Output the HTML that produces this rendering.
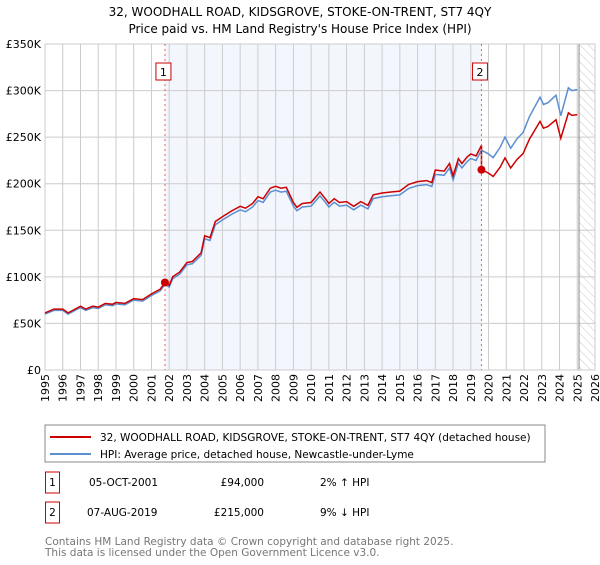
<!DOCTYPE html>
<html><head><meta charset="utf-8"><style>
body{margin:0;background:#fff;font-family:"Liberation Sans","DejaVu Sans",sans-serif;}
svg text{font-family:"DejaVu Sans","Liberation Sans",sans-serif;}
</style></head><body>
<svg id="c" width="600" height="560" xmlns="http://www.w3.org/2000/svg">
<defs><pattern id="hatch" width="6" height="6" patternUnits="userSpaceOnUse" patternTransform="rotate(-45)"><line x1="0" y1="0" x2="0" y2="6" stroke="#bbb" stroke-width="0.8"/></pattern></defs>
<text x="300" y="16" text-anchor="middle" font-size="12">32, WOODHALL ROAD, KIDSGROVE, STOKE-ON-TRENT, ST7 4QY</text>
<text x="300" y="33" text-anchor="middle" font-size="12">Price paid vs. HM Land Registry's House Price Index (HPI)</text>
<g id="plot"></g>
<rect x="45" y="425" width="500" height="37" fill="#fff" stroke="#888"/>
<line x1="50" y1="437" x2="91" y2="437" stroke="#cc0000" stroke-width="2"/>
<text x="100" y="441" font-size="10.5">32, WOODHALL ROAD, KIDSGROVE, STOKE-ON-TRENT, ST7 4QY (detached house)</text>
<line x1="50" y1="454" x2="91" y2="454" stroke="#5b8fd0" stroke-width="2"/>
<text x="100" y="458" font-size="10.5">HPI: Average price, detached house, Newcastle-under-Lyme</text>
<rect x="45.5" y="472" width="14" height="21" fill="#fff" stroke="#cc0000"/>
<text x="52.5" y="486" text-anchor="middle" font-size="10.5">1</text>
<text x="89" y="486" font-size="10.5">05-OCT-2001</text>
<text x="264" y="486" text-anchor="end" font-size="10.5">£94,000</text>
<text x="320" y="486" font-size="10.5">2% ↑ HPI</text>
<rect x="45.5" y="502" width="14" height="21" fill="#fff" stroke="#cc0000"/>
<text x="52.5" y="516" text-anchor="middle" font-size="10.5">2</text>
<text x="87" y="516" font-size="10.5">07-AUG-2019</text>
<text x="264" y="516" text-anchor="end" font-size="10.5">£215,000</text>
<text x="320" y="516" font-size="10.5">9% ↓ HPI</text>
<text x="45" y="545" font-size="10.5" fill="#777">Contains HM Land Registry data © Crown copyright and database right 2025.</text>
<text x="45" y="556" font-size="10.5" fill="#777">This data is licensed under the Open Government Licence v3.0.</text>
</svg>
<script>
const hpiYears=[1995.0,1995.5,1996.0,1996.3,1996.8,1997.0,1997.3,1997.7,1998.0,1998.4,1998.8,1999.0,1999.5,2000.0,2000.5,2001.0,2001.5,2001.76,2002.0,2002.2,2002.6,2003.0,2003.3,2003.8,2004.0,2004.3,2004.6,2005.0,2005.5,2006.0,2006.3,2006.7,2007.0,2007.3,2007.7,2008.0,2008.3,2008.6,2009.0,2009.2,2009.5,2010.0,2010.5,2010.8,2011.0,2011.3,2011.6,2012.0,2012.4,2012.8,2013.2,2013.5,2014.0,2014.5,2015.0,2015.5,2016.0,2016.5,2016.8,2017.0,2017.5,2017.8,2018.0,2018.3,2018.5,2018.8,2019.0,2019.3,2019.6,2020.0,2020.26,2020.65,2020.93,2021.25,2021.6,2021.95,2022.3,2022.9,2023.1,2023.35,2023.8,2024.07,2024.5,2024.7,2025.0];
const hpiValues=[60,64,64,60,65,67,64,67,66,70,69,71,70,75,74,80,85,92,89,98,103,113,114,123,141,139,156,161,167,172,170,175,182,180,191,193,191,192,176,171,175,176,187,180,175,180,176,177,172,177,173,184,186,187,188,195,198,199,197,210,209,217,204,222,217,224,227,225,236,232,228,239,250,238,248,255,272,293,285,287,295,273,303,300,301];
const saleYears=[2001.76,2019.6];
const salePrices=[94,215];
const yTicks=[0,50,100,150,200,250,300,350];
const yTickLabels=["£0","£50K","£100K","£150K","£200K","£250K","£300K","£350K"];
const xTicks=[1995,1996,1997,1998,1999,2000,2001,2002,2003,2004,2005,2006,2007,2008,2009,2010,2011,2012,2013,2014,2015,2016,2017,2018,2019,2020,2021,2022,2023,2024,2025,2026];
const NS="http://www.w3.org/2000/svg";
const L=45,R=595,T=44,B=370,x0=1995,x1=2026,ymax=350,dataEnd=2025.1;
const X=v=>L+(v-x0)/(x1-x0)*(R-L);
const Y=v=>B-v/ymax*(B-T);
const g=document.getElementById('plot');
function mk(t,a){const e=document.createElementNS(NS,t);for(const k in a)e.setAttribute(k,a[k]);g.appendChild(e);return e;}
let e;
e=mk('rect',{x:X(saleYears[0]),y:T,width:X(saleYears[1])-X(saleYears[0]),height:B-T,fill:'#f3f6fd'});


e=mk('rect',{x:X(dataEnd),y:T,width:R-X(dataEnd),height:B-T,fill:'url(#hatch)'});


yTicks.forEach((v,i)=>{
 e=mk('line',{x1:L,x2:R,y1:Y(v),y2:Y(v),stroke:'#ccc','stroke-width':1});
 
 
 e=mk('text',{x:L-4,y:Y(v)+4,'text-anchor':'end','font-size':11});
 e.textContent=yTickLabels[i];
 
 
});
xTicks.forEach(v=>{
 e=mk('line',{x1:X(v),x2:X(v),y1:T,y2:B,stroke:'#ccc','stroke-width':1});
 
 
 e=mk('text',{x:0,y:0,'text-anchor':'end','font-size':11,transform:`translate(${X(v)+4},374) rotate(-90)`});
 e.textContent=v;
 
 
});
e=mk('line',{x1:X(dataEnd),x2:X(dataEnd),y1:T,y2:B,stroke:'#888','stroke-width':1});


e=mk('rect',{x:L,y:T,width:R-L,height:B-T,fill:'none',stroke:'#ccc'});


function hpiAt(t){for(let i=1;i<hpiYears.length;i++){if(t<=hpiYears[i]){const f=(t-hpiYears[i-1])/(hpiYears[i]-hpiYears[i-1]);return hpiValues[i-1]+f*(hpiValues[i]-hpiValues[i-1]);}}return hpiValues[hpiValues.length-1];}
const hp=hpiYears.map((t,i)=>X(t).toFixed(1)+','+Y(hpiValues[i]).toFixed(1)).join(' ');
e=mk('polyline',{points:hp,fill:'none',stroke:'#5b8fd0','stroke-width':1.5});


const f1=salePrices[0]/hpiAt(saleYears[0]),f2=salePrices[1]/hpiAt(saleYears[1]);
const rp=[];
hpiYears.forEach((t,i)=>{if(t<saleYears[1])rp.push([t,hpiValues[i]*f1]);});
rp.push([saleYears[1],hpiAt(saleYears[1])*f1]);
rp.push([saleYears[1],salePrices[1]]);
hpiYears.forEach((t,i)=>{if(t>saleYears[1])rp.push([t,hpiValues[i]*f2]);});
e=mk('polyline',{points:rp.map(p=>X(p[0]).toFixed(1)+','+Y(p[1]).toFixed(1)).join(' '),fill:'none',stroke:'#cc0000','stroke-width':1.5});


saleYears.forEach((t,i)=>{
 e=mk('line',{x1:X(t),x2:X(t),y1:T,y2:B,stroke:'#e06666','stroke-width':1,'stroke-dasharray':'2,3'});
 
 
 e=mk('circle',{cx:X(t),cy:Y(salePrices[i]),r:4,fill:'#cc0000'});
 
 
 e=mk('rect',{x:X(t)-9,y:63,width:15,height:17,fill:'#fff',stroke:'#cc0000'});
 
 
 e=mk('text',{x:X(t)-1.5,y:76,'text-anchor':'middle','font-size':11});
 e.textContent=String(i+1);
 
 
});
</script>
</body></html>
